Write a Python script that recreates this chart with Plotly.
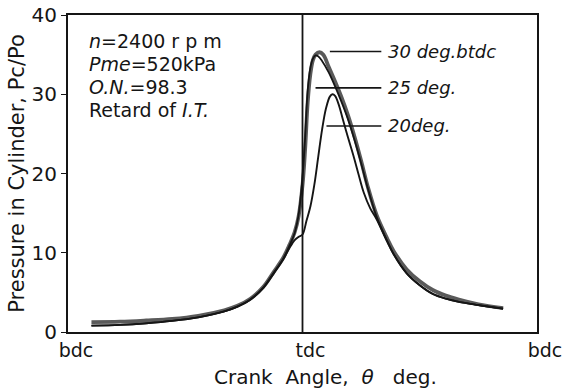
import plotly.graph_objects as go

# Crank angle (deg, tdc = 0, bdc = -180 / +180) and Pc/Po for each ignition timing
ang_30 = [-162, -140, -120, -100, -80, -60, -50, -40, -30, -22, -15, -10, -6, -3, 0, 2, 4, 6, 8, 10,
          13, 16, 20, 25, 30, 35, 40, 45, 50, 57, 65, 70, 80, 90, 100, 110, 120, 135, 154]
p_30 = [1.25, 1.3, 1.45, 1.65, 2.05, 2.75, 3.3, 4.2, 5.7, 7.6, 9.3, 11.0, 12.6, 14.6, 18.5, 23.0, 29.0,
        32.5, 34.3, 35.0, 35.3, 35.0, 33.5, 31.6, 29.6, 27.3, 24.6, 21.6, 18.4, 14.7, 11.8, 10.2, 7.9,
        6.4, 5.3, 4.6, 4.1, 3.5, 3.0]

ang_25 = [-162, -140, -120, -100, -80, -60, -50, -40, -30, -22, -15, -10, -6, -3, 0, 2, 4, 6, 8, 10,
          12, 15, 20, 25, 30, 35, 40, 45, 50, 57, 65, 70, 80, 90, 100, 110, 120, 135, 154]
p_25 = [0.8, 0.9, 1.1, 1.4, 1.85, 2.6, 3.2, 4.1, 5.6, 7.5, 9.2, 10.9, 12.5, 14.8, 19.5, 24.5, 30.5,
        33.3, 34.5, 34.9, 34.8, 34.2, 32.8, 31.0, 29.0, 26.8, 24.2, 21.3, 18.2, 14.5, 11.5, 9.8, 7.4,
        5.9, 4.8, 4.2, 3.8, 3.4, 2.95]

ang_20 = [-162, -140, -120, -100, -80, -60, -50, -40, -30, -22, -15, -10, -6, -3, 0, 3, 6, 9, 12, 15,
          18, 21, 23, 25, 28, 31, 35, 39, 43, 47, 52, 57, 65, 70, 80, 90, 100, 110, 120, 135, 154]
p_20 = [0.8, 0.9, 1.1, 1.4, 1.85, 2.6, 3.2, 4.1, 5.6, 7.4, 9.1, 10.6, 11.6, 12.0, 12.3, 14.0, 15.8,
        18.5, 22.0, 25.5, 28.2, 29.7, 30.0, 29.8, 28.6, 26.8, 24.5, 22.3, 19.9, 17.6, 15.6, 14.2,
        11.4, 9.8, 7.4, 5.9, 4.8, 4.2, 3.8, 3.4, 2.95]

x_tickvals = [-180, 0, 180]
x_ticktext = ["bdc", "tdc", "bdc"]
y_tickvals = [0, 10, 20, 30, 40]

labels = ["30 deg.btdc", "25 deg.", "20deg."]
label_y = [35.4, 30.8, 26.0]
leader_x0 = [21, 10, 18.4]

FONT = "DejaVu Sans"
INK = "#151515"
H, W = 389, 565
ml, mr, mt, mb = 68, 28, 15, 57
ph = H - mt - mb
pw = W - ml - mr

fig = go.Figure()
fig.add_trace(go.Scatter(x=ang_30, y=p_30, mode="lines", line=dict(color="#5a5a5a", width=3.8, shape="spline"),
                         showlegend=False))
fig.add_trace(go.Scatter(x=ang_25, y=p_25, mode="lines", line=dict(color=INK, width=1.8, shape="spline"),
                         showlegend=False))
fig.add_trace(go.Scatter(x=ang_20, y=p_20, mode="lines", line=dict(color=INK, width=1.9, shape="spline"),
                         showlegend=False))

# tdc vertical line
fig.add_shape(type="line", x0=0, x1=0, y0=0, y1=40, xref="x", yref="y", line=dict(color=INK, width=1.8))

for lab, ly, lx in zip(labels, label_y, leader_x0):
    fig.add_shape(type="line", x0=lx, x1=60.5, y0=ly, y1=ly, xref="x", yref="y",
                  line=dict(color=INK, width=1.6))
    fig.add_annotation(x=64, y=ly, xref="x", yref="y", text="<i>%s</i>" % lab, showarrow=False,
                       xanchor="left", yanchor="middle", font=dict(family=FONT, size=18, color=INK))

info = ["<i>n</i>=2400 r p m", "<i>Pme</i>=520kPa", "<i>O.N.</i>=98.3", "Retard of <i>I.T.</i>"]
info_y = [41, 64, 87, 110]
for t, yy in zip(info, info_y):
    fig.add_annotation(x=(87 - ml) / pw, y=1 - (yy - mt) / ph, xref="paper", yref="paper", text=t,
                       showarrow=False, xanchor="left", yanchor="middle",
                       font=dict(family=FONT, size=19, color=INK))

# x-axis title (placed slightly right of centre, as in the original)
fig.add_annotation(x=(325 - ml) / pw, y=1 - (377 - mt) / ph, xref="paper", yref="paper",
                   text="Crank  Angle,  <i>θ</i>   deg.", showarrow=False, xanchor="center", yanchor="middle",
                   font=dict(family=FONT, size=20, color=INK))

fig.update_layout(
    width=W, height=H, margin=dict(l=ml, r=mr, t=mt, b=mb, autoexpand=False),
    paper_bgcolor="white", plot_bgcolor="white",
    font=dict(family=FONT, color=INK),
    xaxis=dict(range=[-180, 180], tickvals=x_tickvals, ticktext=x_ticktext, showgrid=False, zeroline=False,
               showline=True, mirror=True, linecolor=INK, linewidth=2, ticks="", automargin=False,
               ticklabelshift=8, ticklabelstandoff=0,
               tickfont=dict(size=19, family=FONT, color=INK)),
    yaxis=dict(range=[0, 40], tickvals=y_tickvals, showgrid=False, zeroline=False, automargin=False,
               showline=True, mirror=True, linecolor=INK, linewidth=2, ticks="outside", ticklen=5,
               tickcolor=INK, tickfont=dict(size=20, family=FONT, color=INK),
               title=dict(text="Pressure in Cylinder, Pc/Po", standoff=1,
                          font=dict(size=21, family=FONT, color=INK))),
)
fig.write_html("out.html")
